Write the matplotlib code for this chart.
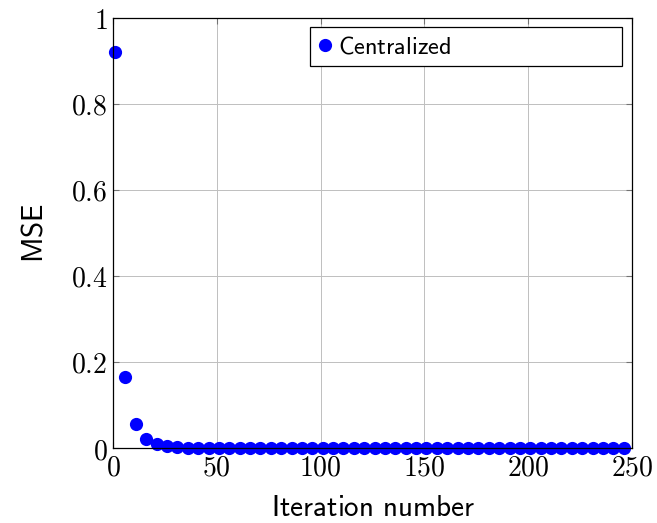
import matplotlib.pyplot as plt
from matplotlib.ticker import FuncFormatter

# ========================================================
# Data
# ========================================================
iterations = [1, 6, 11, 16, 21, 26, 31, 36, 41, 46,
              51, 56, 61, 66, 71, 76, 81, 86, 91, 96,
              101, 106, 111, 116, 121, 126, 131, 136, 141, 146,
              151, 156, 161, 166, 171, 176, 181, 186, 191, 196,
              201, 206, 211, 216, 221, 226, 231, 236, 241, 246]
mse = [0.921, 0.165, 0.056, 0.020, 0.009, 0.004, 0.002, 0.001, 0.0006, 0.0004,
       0.0003, 0.0002, 0.0002, 0.0001, 0.0001, 0.0001, 0.0001, 0.0001, 0.0001, 0.0001,
       0.0001, 0.0001, 0.0001, 0.0001, 0.0001, 0.0001, 0.0001, 0.0001, 0.0001, 0.0001,
       0.0001, 0.0001, 0.0001, 0.0001, 0.0001, 0.0001, 0.0001, 0.0001, 0.0001, 0.0001,
       0.0001, 0.0001, 0.0001, 0.0001, 0.0001, 0.0001, 0.0001, 0.0001, 0.0001, 0.0001]
x_ticks = [0, 50, 100, 150, 200, 250]
y_ticks = [0, 0.2, 0.4, 0.6, 0.8, 1]

plt.rcParams['mathtext.fontset'] = 'cm'

fig = plt.figure(figsize=(6.57, 5.23), dpi=100)
ax = fig.add_axes([0.172, 0.1434, 0.790, 0.8222])

ax.plot(iterations, mse, linestyle='none', marker='o', markersize=9.5,
        color='#0000ff', markeredgewidth=0, label=r'$\mathsf{Centralized}$',
        clip_on=False)

ax.set_xlim(0, 250)
ax.set_ylim(0, 1)
ax.set_xticks(x_ticks)
ax.set_yticks(y_ticks)
ax.xaxis.set_major_formatter(FuncFormatter(lambda v, p: f'${v:g}$'))
ax.yaxis.set_major_formatter(FuncFormatter(lambda v, p: f'${v:g}$'))
ax.tick_params(direction='in', length=4, width=0.8, color='0.45',
               top=True, right=True, labelsize=20, pad=4)
ax.grid(True, color='0.75', linewidth=0.7)
ax.set_axisbelow(True)
for s in ax.spines.values():
    s.set_linewidth(0.9)

ax.set_xlabel(r'$\mathsf{Iteration\ number}$', fontsize=21, labelpad=9)
ax.set_ylabel(r'$\mathsf{MSE}$', fontsize=21, labelpad=16)

leg = ax.legend(loc='upper left', bbox_to_anchor=(0.380, 0.881, 0.601, 0.098),
                mode='expand', borderaxespad=0, fancybox=False, framealpha=1,
                edgecolor='black', handletextpad=0.25, handlelength=0.6,
                borderpad=0.3, markerscale=1.0, fontsize=17.5)
leg.get_frame().set_linewidth(0.9)

fig.savefig('out.png', dpi=100)
